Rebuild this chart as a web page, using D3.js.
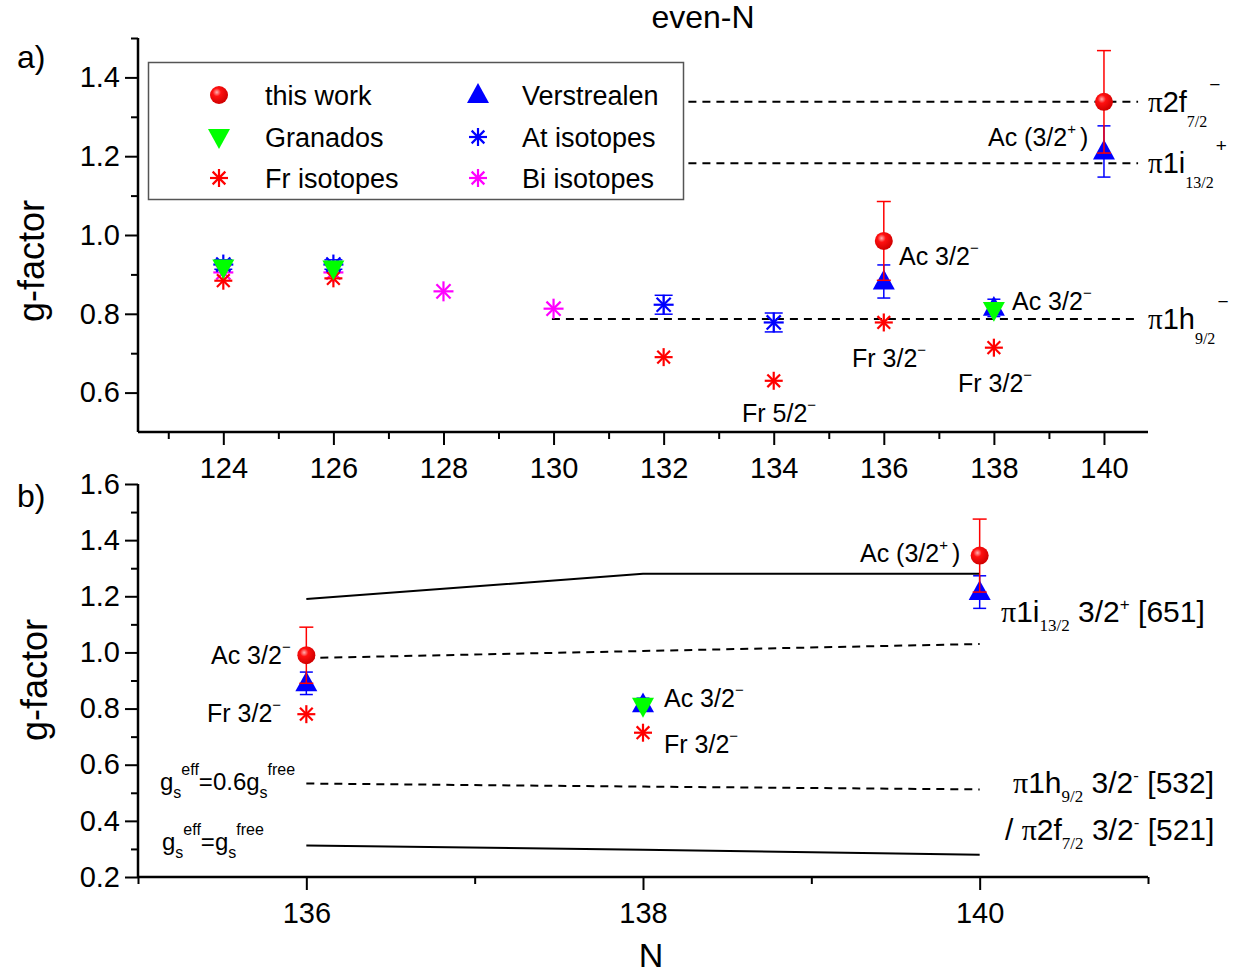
<!DOCTYPE html>
<html><head><meta charset="utf-8">
<script src="https://cdn.jsdelivr.net/npm/d3@7"></script>
<style>
body{margin:0;background:#fff;}
svg{font-family:"Liberation Sans",Arial,sans-serif;}
</style></head>
<body>
<svg id="c" width="1250" height="974"></svg>
<script>
// ---------- Panel a data ----------
const thisWorkN = [136, 140];
const thisWorkG = [0.985, 1.338];
const thisWorkErr = [0.1, 0.13];
const verstN = [136, 138, 140];
const verstG = [0.882, 0.815, 1.212];
const verstErr = [0.042, 0.022, 0.065];
const granN = [124, 126, 138];
const granG = [0.918, 0.915, 0.81];
const frN = [124, 126, 132, 134, 136, 138];
const frG = [0.884, 0.89, 0.69, 0.63, 0.778, 0.714];
const atN = [124, 126, 132, 134];
const atG = [0.925, 0.925, 0.823, 0.778];
const atErr = [0.012, 0.012, 0.024, 0.024];
const biN = [124, 126, 128, 130];
const biG = [0.905, 0.905, 0.857, 0.813];
const refValues = [1.338, 1.182, 0.787];
const refStartN = [132.45, 132.45, 129.97];
const refEndN = 140.62;
const xTicksA = [124, 126, 128, 130, 132, 134, 136, 138, 140];
const xMinorA = [123, 125, 127, 129, 131, 133, 135, 137, 139];
const yTicksA = [0.6, 0.8, 1.0, 1.2, 1.4];
const yMinorA = [0.7, 0.9, 1.1, 1.3, 1.5];

// ---------- Panel b data ----------
const bThisN = [136, 140];
const bThisG = [0.99, 1.345];
const bThisErr = [0.1, 0.13];
const bVerstN = [136, 138, 140];
const bVerstG = [0.89, 0.815, 1.215];
const bVerstErr = [0.04, 0.022, 0.058];
const bGranN = [138];
const bGranG = [0.81];
const bFrN = [136, 138];
const bFrG = [0.78, 0.714];
const calcN = [136, 138, 140];
const pi1iLine = [1.19, 1.28, 1.28];
const acDashLine = [0.98, 1.005, 1.03];
const gs06Line = [0.533, 0.522, 0.512];
const gsFreeLine = [0.312, 0.297, 0.279];
const xTicksB = [136, 138, 140];
const xMinorB = [135, 137, 139, 141];
const yTicksB = [0.2, 0.4, 0.6, 0.8, 1.0, 1.2, 1.4, 1.6];
const yMinorB = [0.3, 0.5, 0.7, 0.9, 1.1, 1.3, 1.5];

const svg = d3.select("#c");
const RED = "#ff0000", BLUE = "#0000ff", GREEN = "#00ff00", MAG = "#ff00ff";

const defs = svg.append("defs");
const rg = defs.append("radialGradient").attr("id", "sph").attr("cx", "0.38").attr("cy", "0.35").attr("r", "0.65");
rg.append("stop").attr("offset", "0").attr("stop-color", "#ffb0b0");
rg.append("stop").attr("offset", "0.35").attr("stop-color", "#ff1010");
rg.append("stop").attr("offset", "1").attr("stop-color", "#d00000");

const xA = d3.scaleLinear().domain([122.45, 140.8]).range([138, 1148]);
const yA = d3.scaleLinear().domain([0.5, 1.5]).range([432, 38]);
const xB = d3.scaleLinear().domain([135, 141]).range([138, 1148]);
const yB = d3.scaleLinear().domain([0.2, 1.6]).range([877, 484]);

function drawAxes(g, x, y, xT, xM, yT, yM, xFmt, yFmt, x0, y0) {
  const ax = g.append("g").attr("transform", `translate(0,${y0})`);
  ax.call(d3.axisBottom(x).tickValues(xT).tickSize(13).tickPadding(12).tickFormat(xFmt));
  const axm = g.append("g").attr("transform", `translate(0,${y0})`);
  axm.call(d3.axisBottom(x).tickValues(xM).tickSize(7).tickFormat(""));
  const ay = g.append("g").attr("transform", `translate(${x0},0)`);
  ay.call(d3.axisLeft(y).tickValues(yT).tickSize(13).tickPadding(5).tickFormat(yFmt));
  const aym = g.append("g").attr("transform", `translate(${x0},0)`);
  aym.call(d3.axisLeft(y).tickValues(yM).tickSize(7).tickFormat(""));
  [ax, axm, ay, aym].forEach(a => {
    a.selectAll(".domain").attr("stroke", "#000").attr("stroke-width", 2.5);
    a.selectAll(".tick line").attr("stroke", "#000").attr("stroke-width", 2);
    a.selectAll(".tick text").attr("font-size", 29).attr("fill", "#000").attr("font-family", "'Liberation Sans',Arial,sans-serif");
  });
  ay.selectAll(".domain").attr("d", `M0,${y.range()[0]}V${y.range()[1]}`);
  aym.selectAll(".domain").remove();
  ax.selectAll(".domain").attr("d", `M${x.range()[0]},0H${x.range()[1]}`);
  axm.selectAll(".domain").remove();
}

function sphere(g, cx, cy, r) {
  g.append("circle").attr("cx", cx).attr("cy", cy).attr("r", r).attr("fill", "url(#sph)");
}
function triUp(g, cx, cy, w, color) {
  const h = w * 0.9;
  g.append("path").attr("d", `M${cx},${cy - h * 0.6}L${cx + w / 2},${cy + h * 0.4}L${cx - w / 2},${cy + h * 0.4}Z`).attr("fill", color);
}
function triDown(g, cx, cy, w, color) {
  const h = w * 0.9;
  g.append("path").attr("d", `M${cx},${cy + h * 0.6}L${cx + w / 2},${cy - h * 0.4}L${cx - w / 2},${cy - h * 0.4}Z`).attr("fill", color);
}
function star(g, cx, cy, r, color) {
  [0, 45, 90, 135].forEach(a => {
    const t = a * Math.PI / 180;
    g.append("line").attr("x1", cx - r * Math.cos(t)).attr("y1", cy - r * Math.sin(t))
      .attr("x2", cx + r * Math.cos(t)).attr("y2", cy + r * Math.sin(t))
      .attr("stroke", color).attr("stroke-width", 2.2);
  });
}
function errBar(g, cx, yTop, yBot, color, cap) {
  g.append("line").attr("x1", cx).attr("x2", cx).attr("y1", yTop).attr("y2", yBot).attr("stroke", color).attr("stroke-width", 1.5);
  [yTop, yBot].forEach(yy => g.append("line").attr("x1", cx - cap / 2).attr("x2", cx + cap / 2).attr("y1", yy).attr("y2", yy).attr("stroke", color).attr("stroke-width", 1.5));
}
function label(g, x, y, base, sup, size) {
  const s = size || 25;
  const t = g.append("text").attr("x", x).attr("y", y).attr("font-size", s).attr("fill", "#000");
  t.append("tspan").text(base);
  if (sup) t.append("tspan").attr("dy", -12).attr("font-size", s * 0.6).text(sup);
  return t;
}

// ---------- title ----------
svg.append("text").attr("x", 703).attr("y", 28).attr("text-anchor", "middle").attr("font-size", 32).text("even-N");

// ================= Panel a =================
const ga = svg.append("g");
drawAxes(ga, xA, yA, xTicksA, xMinorA, yTicksA, yMinorA, d3.format("d"), d3.format(".1f"), 138, 432);
ga.append("text").attr("x", 17).attr("y", 68).attr("font-size", 32).text("a)");
ga.append("text").attr("transform", "translate(44,261) rotate(-90)").attr("text-anchor", "middle").attr("font-size", 36).text("g-factor");

refValues.forEach((v, i) => {
  ga.append("line").attr("x1", xA(refStartN[i])).attr("x2", xA(refEndN)).attr("y1", yA(v)).attr("y2", yA(v))
    .attr("stroke", "#000").attr("stroke-width", 2).attr("stroke-dasharray", "8,6");
});
function orbLabel(g, x, y, main, sub, sup) {
  const t = g.append("text").attr("x", x).attr("y", y).attr("font-size", 29);
  t.append("tspan").attr("font-family", "'Liberation Serif',serif").text("π");
  t.append("tspan").text(main);
  t.append("tspan").attr("dy", 15).attr("font-size", 16).attr("font-family", "'Liberation Serif',serif").text(sub);
  t.append("tspan").attr("dy", -36).attr("dx", 2).attr("font-size", 19).text(sup);
}
orbLabel(ga, 1148, yA(refValues[0]) + 10, "2f", "7/2", "−");
orbLabel(ga, 1148, yA(refValues[1]) + 10, "1i", "13/2", "+");
orbLabel(ga, 1148, yA(refValues[2]) + 10, "1h", "9/2", "−");

biN.forEach((n, i) => star(ga, xA(n), yA(biG[i]), 10, MAG));
frN.forEach((n, i) => star(ga, xA(n), yA(frG[i]), 9, RED));
atN.forEach((n, i) => {
  errBar(ga, xA(n), yA(atG[i] + atErr[i]), yA(atG[i] - atErr[i]), BLUE, 18);
  star(ga, xA(n), yA(atG[i]), 10, BLUE);
});
verstN.forEach((n, i) => {
  errBar(ga, xA(n), yA(verstG[i] + verstErr[i]), yA(verstG[i] - verstErr[i]), BLUE, 13);
  triUp(ga, xA(n), yA(verstG[i]), 22, BLUE);
});
granN.forEach((n, i) => triDown(ga, xA(n), yA(granG[i]), 22, GREEN));
thisWorkN.forEach((n, i) => {
  errBar(ga, xA(n), yA(thisWorkG[i] + thisWorkErr[i]), yA(thisWorkG[i] - thisWorkErr[i]), RED, 14);
  sphere(ga, xA(n), yA(thisWorkG[i]), 9);
});

label(ga, 988, 146, "Ac (3/2", "+").append("tspan").attr("dy", 12).attr("dx", 4).attr("font-size", 25).text(")");
label(ga, 899, 265, "Ac 3/2", "−");
label(ga, 1012, 310, "Ac 3/2", "−");
label(ga, 852, 367, "Fr 3/2", "−");
label(ga, 958, 392, "Fr 3/2", "−");
label(ga, 742, 422, "Fr 5/2", "−");

// legend
const lg = ga.append("g");
lg.append("rect").attr("x", 148.5).attr("y", 62.5).attr("width", 535).attr("height", 137).attr("fill", "#fff").attr("stroke", "#555").attr("stroke-width", 1.5);
const legRows = [95, 137, 178];
sphere(lg, 219, legRows[0], 9);
triDown(lg, 219, legRows[1], 22, GREEN);
star(lg, 219, legRows[2], 9, RED);
triUp(lg, 478, legRows[0], 22, BLUE);
star(lg, 478, legRows[1], 9, BLUE);
star(lg, 478, legRows[2], 9, MAG);
const legText = [["this work", "Verstrealen"], ["Granados", "At isotopes"], ["Fr isotopes", "Bi isotopes"]];
legText.forEach((r, i) => {
  lg.append("text").attr("x", 265).attr("y", legRows[i] + 10).attr("font-size", 27).text(r[0]);
  lg.append("text").attr("x", 522).attr("y", legRows[i] + 10).attr("font-size", 27).text(r[1]);
});

// ================= Panel b =================
const gb = svg.append("g");
drawAxes(gb, xB, yB, xTicksB, xMinorB, yTicksB, yMinorB, d3.format("d"), d3.format(".1f"), 138, 877);
gb.append("text").attr("x", 17).attr("y", 507).attr("font-size", 32).text("b)");
gb.append("text").attr("transform", "translate(47,680) rotate(-90)").attr("text-anchor", "middle").attr("font-size", 36).text("g-factor");
gb.append("text").attr("x", 651).attr("y", 967).attr("text-anchor", "middle").attr("font-size", 34).text("N");

const line = (arr) => d3.line().x((d, i) => xB(calcN[i])).y(d => yB(d))(arr);
gb.append("path").attr("d", line(pi1iLine)).attr("fill", "none").attr("stroke", "#000").attr("stroke-width", 2);
gb.append("path").attr("d", line(acDashLine)).attr("fill", "none").attr("stroke", "#000").attr("stroke-width", 2).attr("stroke-dasharray", "8,6");
gb.append("path").attr("d", line(gs06Line)).attr("fill", "none").attr("stroke", "#000").attr("stroke-width", 2).attr("stroke-dasharray", "8,6");
gb.append("path").attr("d", line(gsFreeLine)).attr("fill", "none").attr("stroke", "#000").attr("stroke-width", 2);

bFrN.forEach((n, i) => star(gb, xB(n), yB(bFrG[i]), 9, RED));
bVerstN.forEach((n, i) => {
  errBar(gb, xB(n), yB(bVerstG[i] + bVerstErr[i]), yB(bVerstG[i] - bVerstErr[i]), BLUE, 13);
  triUp(gb, xB(n), yB(bVerstG[i]), 22, BLUE);
});
bGranN.forEach((n, i) => triDown(gb, xB(n), yB(bGranG[i]), 22, GREEN));
bThisN.forEach((n, i) => {
  errBar(gb, xB(n), yB(bThisG[i] + bThisErr[i]), yB(bThisG[i] - bThisErr[i]), RED, 14);
  sphere(gb, xB(n), yB(bThisG[i]), 9);
});

label(gb, 860, 562, "Ac (3/2", "+").append("tspan").attr("dy", 12).attr("dx", 4).attr("font-size", 25).text(")");
label(gb, 211, 664, "Ac 3/2", "−");
label(gb, 207, 722, "Fr 3/2", "−");
label(gb, 664, 707, "Ac 3/2", "−");
label(gb, 664, 753, "Fr 3/2", "−");

function gsLabel(g, x, y, parts) {
  const t = g.append("text").attr("x", x).attr("y", y).attr("font-size", 24);
  parts.forEach(p => {
    const s = t.append("tspan").text(p[0]);
    if (p[1] === "sub") s.attr("font-size", 16).attr("dy", 8);
    else if (p[1] === "sup") s.attr("font-size", 16).attr("dy", -23);
    else if (p[1] === "back") s.attr("dy", 15);
  });
}
gsLabel(gb, 160, 790, [["g"], ["s", "sub"], ["eff", "sup"], ["=0.6g", "back"], ["s", "sub"], ["free", "sup"]]);
gsLabel(gb, 162, 850, [["g"], ["s", "sub"], ["eff", "sup"], ["=g", "back"], ["s", "sub"], ["free", "sup"]]);

function rightLabel(g, x, y, pre, main, sub, rest, restSup, tail) {
  const t = g.append("text").attr("x", x).attr("y", y).attr("font-size", 30);
  if (pre) t.append("tspan").text(pre);
  t.append("tspan").attr("font-family", "'Liberation Serif',serif").text("π");
  t.append("tspan").text(main);
  t.append("tspan").attr("font-size", 17).attr("dy", 9).attr("font-family", "'Liberation Serif',serif").text(sub);
  t.append("tspan").attr("dy", -9).text(" " + rest);
  t.append("tspan").attr("font-size", 17).attr("dy", -12).text(restSup);
  t.append("tspan").attr("dy", 12).text(" " + tail);
}
rightLabel(gb, 1001, 622, "", "1i", "13/2", "3/2", "+", "[651]");
rightLabel(gb, 1013, 793, "", "1h", "9/2", "3/2", "-", "[532]");
rightLabel(gb, 1005, 840, "/ ", "2f", "7/2", "3/2", "-", "[521]");
</script>
</body></html>
